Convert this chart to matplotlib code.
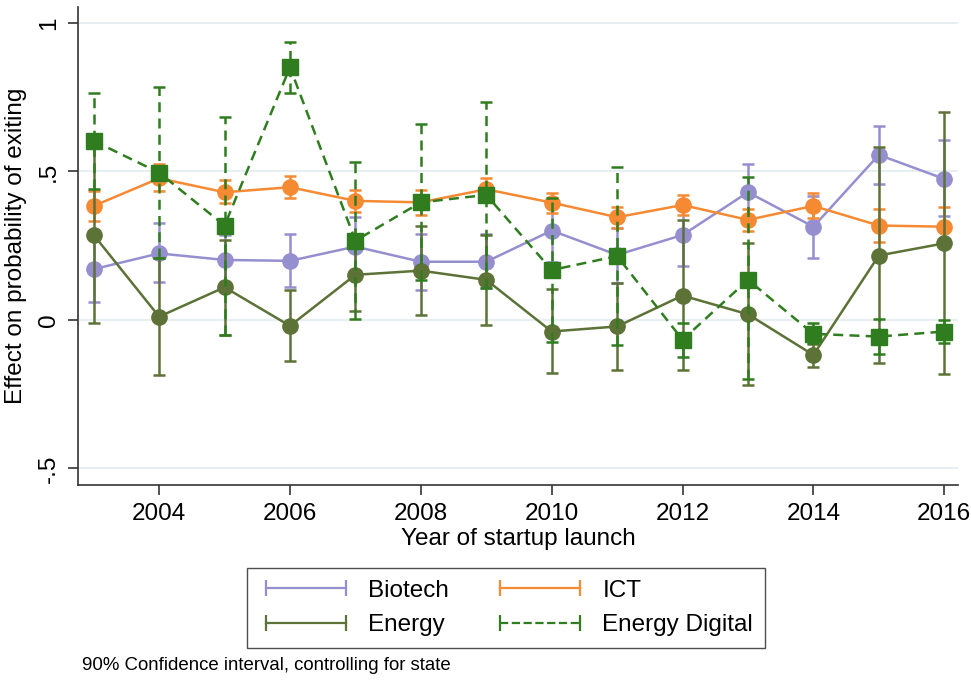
import matplotlib
matplotlib.use("Agg")
import matplotlib.pyplot as plt
from matplotlib.lines import Line2D

plt.rcParams['font.family'] = ['Liberation Sans', 'DejaVu Sans']

years = [2003, 2004, 2005, 2006, 2007, 2008, 2009, 2010, 2011, 2012, 2013, 2014, 2015, 2016]

biotech_est = [0.171, 0.224, 0.202, 0.199, 0.247, 0.196, 0.196, 0.301, 0.219, 0.286, 0.430, 0.314, 0.556, 0.475]
biotech_lo = [0.062, 0.127, 0.120, 0.110, 0.146, 0.101, 0.107, 0.196, 0.124, 0.180, 0.335, 0.210, 0.457, 0.350]
biotech_hi = [0.280, 0.325, 0.285, 0.288, 0.348, 0.288, 0.288, 0.406, 0.309, 0.390, 0.525, 0.418, 0.653, 0.606]

ict_est = [0.384, 0.477, 0.430, 0.447, 0.401, 0.396, 0.440, 0.395, 0.346, 0.387, 0.337, 0.384, 0.318, 0.314]
ict_lo = [0.334, 0.435, 0.393, 0.410, 0.363, 0.354, 0.400, 0.359, 0.309, 0.354, 0.300, 0.342, 0.264, 0.246]
ict_hi = [0.435, 0.525, 0.471, 0.486, 0.438, 0.438, 0.479, 0.429, 0.382, 0.421, 0.374, 0.427, 0.374, 0.382]

energy_est = [0.286, 0.011, 0.110, -0.020, 0.152, 0.166, 0.135, -0.039, -0.022, 0.082, 0.019, -0.118, 0.217, 0.258]
energy_lo = [-0.011, -0.185, -0.050, -0.140, 0.031, 0.017, -0.017, -0.180, -0.170, -0.170, -0.220, -0.157, -0.146, -0.183]
energy_hi = [0.583, 0.207, 0.270, 0.101, 0.273, 0.316, 0.287, 0.104, 0.126, 0.337, 0.260, -0.080, 0.584, 0.701]

ed_est = [0.603, 0.496, 0.318, 0.851, 0.267, 0.396, 0.421, 0.168, 0.215, -0.067, 0.135, -0.047, -0.056, -0.039]
ed_lo = [0.442, 0.209, -0.050, 0.763, 0.003, 0.133, 0.107, -0.076, -0.084, -0.124, -0.200, -0.079, -0.116, -0.079]
ed_hi = [0.764, 0.783, 0.685, 0.937, 0.531, 0.659, 0.735, 0.412, 0.516, -0.011, 0.480, -0.009, 0.002, 0.000]

series_names = ["Biotech", "ICT", "Energy", "Energy Digital"]
x_ticks = [2004, 2006, 2008, 2010, 2012, 2014, 2016]
y_ticks = [1, 0.5, 0, -0.5]
y_ticklabels = ["1", ".5", "0", "-.5"]

fig = plt.figure(figsize=(9.71, 6.86), dpi=100)
ax = fig.add_axes([78/971, 1-485/686, (958-78)/971, (485-7)/686])

specs = [
    (biotech_est, biotech_lo, biotech_hi, "#958fd0", 'o', '-', series_names[0]),
    (ict_est, ict_lo, ict_hi, "#f58a33", 'o', '-', series_names[1]),
    (energy_est, energy_lo, energy_hi, "#5c7237", 'o', '-', series_names[2]),
    (ed_est, ed_lo, ed_hi, "#2f7d1f", 's', '--', series_names[3]),
]

handles = {}
for i, (est, lo, hi, col, mk, ls, name) in enumerate(specs):
    yerr = [[e - l for e, l in zip(est, lo)], [h - e for e, h in zip(est, hi)]]
    eb = ax.errorbar(years, est, yerr=yerr, color=col, marker=mk, markersize=11,
                     linestyle=ls, linewidth=1.8, elinewidth=1.8, capsize=4.6,
                     capthick=1.8, zorder=3 + i)
    if ls == '--':
        eb[0].set_dashes((4, 2.5))
        for c in eb[2]:
            c.set_linestyle((0, (4, 2.5)))
    handles[name] = Line2D([0, 1], [0, 0], color=col, linestyle=ls, linewidth=1.6,
                           marker='|', markersize=11, markeredgewidth=1.6)

ax.set_xlim(2002.76, 2016.21)
ax.set_ylim(-0.556, 1.054)
ax.set_xticks(x_ticks)
ax.set_yticks(y_ticks)
ax.set_yticklabels(y_ticklabels, rotation=90, va='center')
ax.tick_params(axis='both', labelsize=17.5, length=7, width=1.2, color='#333333')
ax.tick_params(axis='x', pad=6)
ax.tick_params(axis='y', pad=6)
for s in ['top', 'right']:
    ax.spines[s].set_visible(False)
for s in ['left', 'bottom']:
    ax.spines[s].set_linewidth(1.2)
    ax.spines[s].set_color('#333333')
ax.grid(axis='y', color='#e8eff2', linewidth=1.5, zorder=0)
ax.set_axisbelow(True)

ax.set_xlabel("Year of startup launch", fontsize=17.5, labelpad=2)
ax.set_ylabel("Effect on probability of exiting", fontsize=17.5, labelpad=8)

order = ["Biotech", "Energy", "ICT", "Energy Digital"]
leg = fig.legend([handles[n] for n in order], order, loc='center',
                 bbox_to_anchor=(506/971, 1-608/686), ncol=2, fontsize=17.5,
                 numpoints=2, handlelength=3.9, columnspacing=1.8,
                 handletextpad=0.6, frameon=True, fancybox=False,
                 borderpad=0.5, labelspacing=0.5)
leg.get_frame().set_edgecolor('#222222')
leg.get_frame().set_linewidth(1.0)

fig.text(82/971, 1-665/686, "90% Confidence interval, controlling for state",
         fontsize=13.4, va='center', ha='left')

fig.savefig("out.png", dpi=100)
